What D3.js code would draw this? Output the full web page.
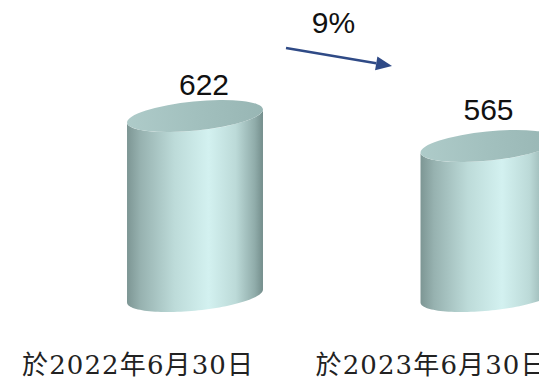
<!DOCTYPE html>
<html>
<head>
<meta charset="utf-8">
<script src="https://cdn.jsdelivr.net/npm/d3@7"></script>
<style>
  html, body { margin: 0; padding: 0; background: #ffffff; }
  svg { display: block; }
</style>
</head>
<body>
<svg id="chart" width="539" height="381"></svg>
<script>
// Period labels and the value held at each date
const periods = ["於2022年6月30日", "於2023年6月30日"];
const values = [622, 565];

const svg = d3.select("#chart");

// Horizontal position of each cylinder and vertical value scale (baseline at 296)
const x = d3.scalePoint().domain(periods).range([195, 488.5]);
const y = d3.scaleLinear().domain([280, 660]).range([296, 96]);

// Cylinder cross-section: tilted ellipse
const rx = 68.3, ry = 14.6, tilt = -5.7 * Math.PI / 180;

const defs = svg.append("defs");
const bodyGrad = defs.append("linearGradient").attr("id", "bodyGrad")
  .attr("x1", "0%").attr("x2", "100%").attr("y1", "0%").attr("y2", "0%");
[[0, "#7d9694"], [0.1, "#97b2b0"], [0.35, "#bddbd9"], [0.6, "#d3f1f0"],
 [0.8, "#bcdad8"], [0.94, "#90acaa"], [1, "#748e8c"]]
  .forEach(([o, c]) => bodyGrad.append("stop").attr("offset", o).attr("stop-color", c));
const capGrad = defs.append("linearGradient").attr("id", "capGrad")
  .attr("x1", "0%").attr("x2", "100%").attr("y1", "0%").attr("y2", "0%");
[[0, "#aecbc9"], [0.5, "#a2c0be"], [1, "#98b6b4"]]
  .forEach(([o, c]) => capGrad.append("stop").attr("offset", o).attr("stop-color", c));

function ellPt(cx, cy, t) {
  return [
    cx + rx * Math.cos(t) * Math.cos(tilt) - ry * Math.sin(t) * Math.sin(tilt),
    cy + rx * Math.cos(t) * Math.sin(tilt) + ry * Math.sin(t) * Math.cos(tilt)
  ];
}

function bodyPath(cx, cyTop, cyBot) {
  const tr = Math.atan2(-ry * Math.sin(tilt), rx * Math.cos(tilt));
  const n = 60;
  const pts = [];
  pts.push(ellPt(cx, cyTop, tr));
  for (let i = 0; i <= n; i++) pts.push(ellPt(cx, cyBot, tr + Math.PI * i / n));
  for (let i = n; i >= 0; i--) pts.push(ellPt(cx, cyTop, tr + Math.PI * i / n));
  return d3.line()(pts) + "Z";
}

const base = y.range()[0];
const g = svg.append("g");

periods.forEach((p, i) => {
  const cx = x(p), cyTop = y(values[i]);
  g.append("path")
    .attr("d", bodyPath(cx, cyTop, base))
    .attr("fill", "url(#bodyGrad)");
  g.append("ellipse")
    .attr("cx", cx).attr("cy", cyTop)
    .attr("rx", rx).attr("ry", ry)
    .attr("transform", `rotate(${tilt * 180 / Math.PI},${cx},${cyTop})`)
    .attr("fill", "url(#capGrad)");
});

// Value labels above each cylinder
const labelNudge = [[9, -21], [0, -26]];
periods.forEach((p, i) => {
  svg.append("text")
    .attr("x", x(p) + labelNudge[i][0])
    .attr("y", y(values[i]) + labelNudge[i][1])
    .attr("text-anchor", "middle")
    .attr("font-family", "'Liberation Sans', Arial, sans-serif")
    .attr("font-size", 30)
    .attr("fill", "#111111")
    .text(values[i]);
});

// Period labels along the bottom
periods.forEach(p => {
  svg.append("text")
    .attr("x", x(p) - 57.5)
    .attr("y", 374)
    .attr("text-anchor", "middle")
    .attr("font-family", "'DejaVu Serif', 'Noto Sans CJK TC', serif")
    .attr("font-size", 26)
    .attr("fill", "#222222")
    .attr("textLength", 231)
    .attr("lengthAdjust", "spacing")
    .text(p);
});

// Change arrow with percentage decline
const change = Math.round((values[0] - values[1]) / values[0] * 100);
const ax0 = x(periods[0]) + 91, ay0 = 48;
const ax1 = x(periods[0]) + 197, ay1 = 66;
const ang = Math.atan2(ay1 - ay0, ax1 - ax0);
const headLen = 16, headW = 7;
const bx = ax1 - headLen * Math.cos(ang), by = ay1 - headLen * Math.sin(ang);
svg.append("line")
  .attr("x1", ax0).attr("y1", ay0).attr("x2", bx).attr("y2", by)
  .attr("stroke", "#2f4a86").attr("stroke-width", 2.5);
svg.append("path")
  .attr("d", d3.line()([
    [ax1, ay1],
    [bx - headW * Math.sin(ang), by + headW * Math.cos(ang)],
    [bx + headW * Math.sin(ang), by - headW * Math.cos(ang)]
  ]) + "Z")
  .attr("fill", "#2f4a86");
svg.append("text")
  .attr("x", 333.5).attr("y", 33)
  .attr("text-anchor", "middle")
  .attr("font-family", "'Liberation Sans', Arial, sans-serif")
  .attr("font-size", 30)
  .attr("fill", "#111111")
  .text(change + "%");
</script>
</body>
</html>
